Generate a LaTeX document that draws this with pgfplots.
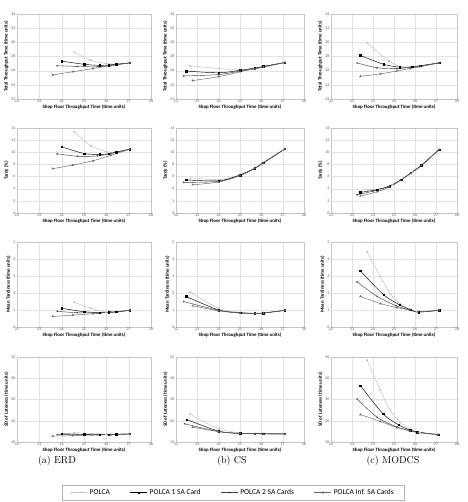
\documentclass[border=0pt]{standalone}
\usepackage{pgfplots}
\pgfplotsset{compat=1.18}
\usepackage{fontspec}
\newfontfamily\carlito{Carlito}
\pgfplotsset{
 base/.style={scale only axis, height=85pt, xmin=22, xmax=28, xtick={22,...,28},
  grid=major, major grid style={gray!22, line width=0.3pt},
  axis line style={gray!45, line width=0.3pt}, major tick length=0pt,
  tick label style={font=\carlito\fontsize{4}{4}\selectfont, text=gray!70!black},
  /pgf/number format/assume math mode=true,
  label style={font=\carlito\bfseries\fontsize{4.9}{5}\selectfont},
  xlabel={Shop Floor Throughput Time (time units)},
  xticklabel style={inner sep=1pt}, yticklabel style={inner sep=1.5pt},
  xlabel style={inner sep=1pt}, ylabel style={inner sep=1pt},
  every axis plot/.append style={smooth, tension=0.5, line width=0.45pt}},
 c1/.style={width=134pt}, c2/.style={width=128pt}, c3/.style={width=126pt},
 r1/.style={ymin=22, ymax=34, ytick={22,24,...,34}, ylabel={Total Throughput Time (time units)}},
 r2/.style={ymin=0, ymax=14, ytick={0,2,...,14}, ylabel={Tardy (\%)}},
 r3/.style={ymin=0, ymax=5, ytick={0,...,5}, ylabel={Mean Tardiness (time units)}},
 r4/.style={ymin=10, ymax=50, ytick={10,20,...,50}, ylabel={SD of Lateness (time units)}},
 s0/.style={gray!50, mark=+, mark size=0.9pt},
 s1/.style={black, mark=square*, mark size=0.75pt},
 s2/.style={black!75, mark=x, mark size=0.9pt},
 s3/.style={black!60, mark=triangle, mark size=1pt},
}
\begin{document}
\begin{tikzpicture}
\useasboundingbox (0,0) rectangle (467pt,-502pt);
% ===== Column 1: ERD =====
\begin{axis}[base, c1, r1, at={(17pt,-99pt)}, anchor=south west]
\addplot[s0] coordinates {(24.55,28.6) (25.3,27.45) (26.0,27.0) (26.5,26.95) (27.05,27.1)};
\addplot[s1] coordinates {(24.0,27.35) (25.0,26.9) (25.7,26.75) (26.1,26.8) (26.45,26.9) (27.05,27.1)};
\addplot[s2] coordinates {(23.8,26.7) (24.7,26.6) (25.6,26.55) (26.2,26.75) (27.05,27.1)};
\addplot[s3] coordinates {(23.6,25.4) (24.5,25.85) (25.4,26.3) (26.2,26.7) (27.05,27.1)};
\end{axis}
\begin{axis}[base, c1, r2, at={(17pt,-213pt)}, anchor=south west]
\addplot[s0] coordinates {(24.55,13.4) (25.3,11.1) (26.0,10.1) (26.5,10.1) (27.05,10.5)};
\addplot[s1] coordinates {(24.0,10.9) (25.0,9.8) (25.7,9.65) (26.1,9.75) (26.45,10.05) (27.05,10.5)};
\addplot[s2] coordinates {(23.8,9.75) (24.7,9.35) (25.6,9.4) (26.2,9.8) (27.05,10.5)};
\addplot[s3] coordinates {(23.6,7.3) (24.5,7.9) (25.4,8.6) (26.2,9.5) (27.05,10.5)};
\end{axis}
\begin{axis}[base, c1, r3, at={(17pt,-327pt)}, anchor=south west]
\addplot[s0] coordinates {(24.55,1.45) (25.3,1.1) (26.0,0.88) (26.5,0.88) (27.05,0.98)};
\addplot[s1] coordinates {(24.0,1.1) (25.0,0.9) (25.7,0.85) (26.1,0.86) (26.45,0.89) (27.05,0.98)};
\addplot[s2] coordinates {(23.8,0.92) (24.7,0.84) (25.6,0.83) (26.2,0.87) (27.05,0.98)};
\addplot[s3] coordinates {(23.6,0.62) (24.5,0.7) (25.4,0.78) (26.2,0.87) (27.05,0.98)};
\end{axis}
\begin{axis}[base, c1, r4, at={(17pt,-442pt)}, anchor=south west]
\addplot[s0] coordinates {(24.55,14.4) (25.3,14.0) (26.0,13.6) (26.5,13.6) (27.05,13.8)};
\addplot[s1] coordinates {(24.0,13.9) (25.0,13.6) (25.7,13.5) (26.1,13.5) (26.45,13.6) (27.05,13.8)};
\addplot[s2] coordinates {(23.8,13.5) (24.7,13.4) (25.6,13.4) (26.2,13.5) (27.05,13.8)};
\addplot[s3] coordinates {(23.6,12.8) (24.5,13.0) (25.4,13.3) (26.2,13.5) (27.05,13.8)};
\end{axis}
% ===== Column 2: CS =====
\begin{axis}[base, c2, r1, at={(176pt,-99pt)}, anchor=south west]
\addplot[s0] coordinates {(22.67,26.7) (24.0,26.3) (25.0,26.1) (25.7,26.4) (26.1,26.6) (27.1,27.15)};
\addplot[s1] coordinates {(22.47,25.95) (24.0,25.7) (25.0,26.05) (25.7,26.35) (26.1,26.6) (27.1,27.15)};
\addplot[s2] coordinates {(22.36,25.25) (24.0,25.45) (25.0,25.95) (25.7,26.3) (26.1,26.55) (27.1,27.15)};
\addplot[s3] coordinates {(22.78,24.6) (24.0,25.15) (25.0,25.85) (25.7,26.25) (26.1,26.5) (27.1,27.15)};
\end{axis}
\begin{axis}[base, c2, r2, at={(176pt,-213pt)}, anchor=south west]
\addplot[s0] coordinates {(22.67,5.8) (24.0,5.5) (25.0,6.3) (25.7,7.4) (26.1,8.3) (27.1,10.55)};
\addplot[s1] coordinates {(22.47,5.45) (24.0,5.3) (25.0,6.25) (25.7,7.4) (26.1,8.3) (27.1,10.55)};
\addplot[s2] coordinates {(22.36,5.05) (24.0,5.2) (25.0,6.2) (25.7,7.35) (26.1,8.25) (27.1,10.55)};
\addplot[s3] coordinates {(22.78,4.65) (24.0,5.1) (25.0,6.15) (25.7,7.35) (26.1,8.25) (27.1,10.55)};
\end{axis}
\begin{axis}[base, c2, r3, at={(176pt,-327pt)}, anchor=south west]
\addplot[s0] coordinates {(22.67,2.05) (24.0,1.1) (25.0,0.87) (25.7,0.82) (26.1,0.84) (27.1,0.98)};
\addplot[s1] coordinates {(22.47,1.8) (24.0,1.0) (25.0,0.84) (25.7,0.8) (26.1,0.82) (27.1,0.98)};
\addplot[s2] coordinates {(22.36,1.5) (24.0,0.98) (25.0,0.83) (25.7,0.8) (26.1,0.82) (27.1,0.98)};
\addplot[s3] coordinates {(22.78,1.25) (24.0,0.95) (25.0,0.82) (25.7,0.79) (26.1,0.82) (27.1,0.98)};
\end{axis}
\begin{axis}[base, c2, r4, at={(176pt,-442pt)}, anchor=south west,
  legend columns=4,
  legend style={at={(axis description cs:0.445,-0.595)}, anchor=center, draw=gray!60,
    font=\carlito\fontsize{7.5}{8}\selectfont, inner xsep=8pt, inner ysep=2pt,
    /tikz/every even column/.append style={column sep=18pt}},
  legend image post style={line width=0.6pt}]
\addplot[s0] coordinates {(22.67,23.0) (24.0,16.3) (25.0,14.3) (25.7,14.0) (26.1,13.9) (27.1,13.8)};
\addplot[s1] coordinates {(22.5,20.6) (24.0,15.1) (25.0,14.1) (25.7,13.95) (26.1,13.9) (27.1,13.8)};
\addplot[s2] coordinates {(22.4,18.6) (24.0,14.9) (25.0,14.0) (25.7,13.9) (26.1,13.85) (27.1,13.8)};
\addplot[s3] coordinates {(22.78,17.0) (24.0,14.9) (25.0,14.0) (25.7,13.9) (26.1,13.85) (27.1,13.8)};
\legend{POLCA, POLCA 1 SA Card, POLCA 2 SA Cards, POLCA Inf. SA Cards}
\end{axis}
% ===== Column 3: MODCS =====
\begin{axis}[base, c3, r1, at={(331pt,-99pt)}, anchor=south west]
\addplot[s0] coordinates {(23.71,29.95) (24.75,27.35) (25.33,26.6) (25.78,26.45) (26.25,26.6) (27.15,27.1)};
\addplot[s1] coordinates {(23.4,28.15) (24.5,26.9) (25.27,26.5) (25.86,26.55) (26.25,26.7) (27.15,27.1)};
\addplot[s2] coordinates {(23.24,27.1) (24.2,26.4) (25.14,26.3) (25.8,26.45) (26.25,26.65) (27.15,27.1)};
\addplot[s3] coordinates {(23.4,25.2) (24.35,25.55) (25.14,25.95) (25.75,26.3) (26.25,26.55) (27.15,27.1)};
\end{axis}
\begin{axis}[base, c3, r2, at={(331pt,-213pt)}, anchor=south west]
\addplot[s0] coordinates {(23.71,3.85) (24.3,3.95) (24.9,4.6) (25.4,5.6) (25.85,6.7) (26.3,7.9) (27.15,10.45)};
\addplot[s1] coordinates {(23.4,3.4) (24.2,3.85) (24.8,4.45) (25.35,5.5) (25.8,6.6) (26.3,7.85) (27.15,10.45)};
\addplot[s2] coordinates {(23.24,3.0) (24.0,3.6) (24.7,4.3) (25.3,5.4) (25.8,6.55) (26.3,7.8) (27.15,10.45)};
\addplot[s3] coordinates {(23.4,2.8) (24.2,3.5) (24.8,4.3) (25.3,5.35) (25.8,6.55) (26.3,7.8) (27.15,10.45)};
\end{axis}
\begin{axis}[base, c3, r3, at={(331pt,-327pt)}, anchor=south west]
\addplot[s0] coordinates {(23.71,4.43) (24.35,2.97) (24.83,1.95) (25.3,1.34) (25.78,1.04) (26.1,0.9) (27.15,0.98)};
\addplot[s1] coordinates {(23.4,3.3) (24.5,1.9) (25.27,1.3) (25.78,1.02) (26.17,0.88) (27.15,0.98)};
\addplot[s2] coordinates {(23.24,2.66) (24.2,1.8) (25.1,1.25) (25.75,1.0) (26.15,0.88) (27.15,0.98)};
\addplot[s3] coordinates {(23.4,1.8) (24.35,1.38) (25.14,1.14) (25.75,1.0) (26.15,0.9) (27.15,0.98)};
\end{axis}
\begin{axis}[base, c3, r4, at={(331pt,-442pt)}, anchor=south west]
\addplot[s0] coordinates {(23.71,48.7) (24.35,34.5) (24.83,24.8) (25.3,19.2) (25.78,16.0) (26.25,14.4) (27.1,13.5)};
\addplot[s1] coordinates {(23.4,36.6) (24.48,23.2) (25.22,18.1) (25.78,15.5) (26.1,14.7) (27.1,13.5)};
\addplot[s2] coordinates {(23.24,30.3) (24.2,21.6) (25.14,17.1) (25.78,15.3) (26.15,14.5) (27.1,13.5)};
\addplot[s3] coordinates {(23.4,22.9) (24.35,19.7) (25.14,16.8) (25.75,15.2) (26.15,14.4) (27.1,13.5)};
\end{axis}
% captions
\node[font=\fontsize{10}{12}\selectfont] at (57pt,-461pt) {(a) ERD};
\node[font=\fontsize{10}{12}\selectfont] at (232pt,-461pt) {(b) CS};
\node[font=\fontsize{10}{12}\selectfont] at (393pt,-461pt) {(c) MODCS};
\end{tikzpicture}
\end{document}
